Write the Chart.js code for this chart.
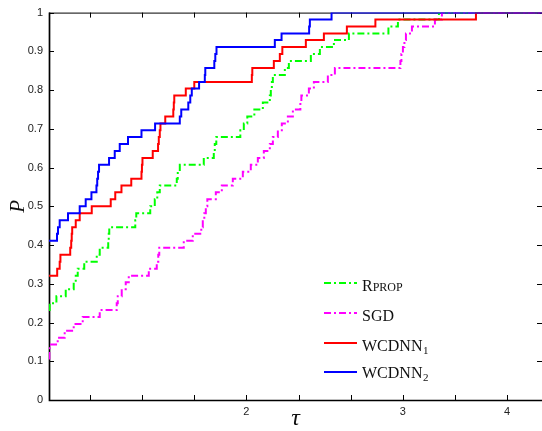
<!DOCTYPE html>
<html>
<head>
<meta charset="utf-8">
<script src="https://cdn.jsdelivr.net/npm/chart.js@4.4.0/dist/chart.umd.min.js"></script>
<style>
html, body { margin: 0; padding: 0; background: #fff; }
#chart { display: block; }
</style>
</head>
<body>
<canvas id="chart" width="542" height="431"></canvas>
<script>
// x is measured in tick units along the tau axis (tick marks at 0..8)
var xTicks = [0, 1, 2, 3, 4, 5, 6, 7, 8];
var xTickLabels = ['', '', '', '2', '', '', '3', '', '4'];
var xMin = -0.787, xMax = 8.67;

var seriesNames = ['Rprop', 'SGD', 'WCDNN1', 'WCDNN2'];

var rpropX = [-0.787, -0.774, -0.645, -0.466, -0.313, -0.274, -0.236, -0.111, 0.129, 0.186, 0.349, 0.359, 0.369, 0.868, 0.887, 1.155, 1.242, 1.290, 1.338, 1.664, 1.683, 1.722, 2.182, 2.374, 2.393, 2.422, 2.883, 2.950, 3.017, 3.152, 3.315, 3.449, 3.468, 3.488, 3.507, 3.737, 3.814, 4.236, 4.409, 4.678, 4.966, 5.724, 5.906, 6.693, 8.67];
var rpropP = [0.232, 0.25, 0.268, 0.286, 0.304, 0.321, 0.339, 0.357, 0.375, 0.393, 0.411, 0.429, 0.446, 0.464, 0.482, 0.5, 0.518, 0.536, 0.554, 0.571, 0.589, 0.607, 0.625, 0.643, 0.661, 0.679, 0.696, 0.714, 0.732, 0.75, 0.768, 0.786, 0.804, 0.821, 0.839, 0.857, 0.875, 0.893, 0.911, 0.929, 0.946, 0.964, 0.982, 1, 1];

var sgdX = [-0.787, -0.780, -0.774, -0.620, -0.486, -0.313, -0.140, 0.186, 0.512, 0.532, 0.608, 0.685, 0.743, 1.127, 1.280, 1.309, 1.328, 1.798, 1.971, 2.134, 2.163, 2.192, 2.221, 2.250, 2.413, 2.528, 2.739, 2.931, 3.084, 3.219, 3.334, 3.449, 3.507, 3.603, 3.679, 3.795, 3.891, 4.035, 4.054, 4.198, 4.294, 4.562, 4.697, 5.954, 5.973, 6.002, 6.031, 6.060, 6.175, 6.616, 6.750, 8.67];
var sgdP = [0.107, 0.125, 0.143, 0.161, 0.179, 0.196, 0.214, 0.232, 0.25, 0.268, 0.286, 0.304, 0.321, 0.339, 0.357, 0.375, 0.393, 0.411, 0.429, 0.446, 0.464, 0.482, 0.5, 0.518, 0.536, 0.554, 0.571, 0.589, 0.607, 0.625, 0.643, 0.661, 0.679, 0.696, 0.714, 0.732, 0.75, 0.768, 0.786, 0.804, 0.821, 0.839, 0.857, 0.875, 0.893, 0.911, 0.929, 0.946, 0.964, 0.982, 1, 1];

var wcdnn1X = [-0.787, -0.630, -0.582, -0.568, -0.380, -0.361, -0.351, -0.342, -0.274, -0.198, 0.033, 0.397, 0.484, 0.603, 0.791, 0.987, 0.996, 1.006, 1.203, 1.305, 1.319, 1.338, 1.351, 1.443, 1.597, 1.607, 1.616, 1.837, 2.000, 3.104, 3.113, 3.526, 3.641, 3.689, 4.140, 4.486, 4.927, 5.474, 7.403, 8.67];
var wcdnn1P = [0.321, 0.339, 0.357, 0.375, 0.393, 0.411, 0.429, 0.446, 0.464, 0.482, 0.5, 0.518, 0.536, 0.554, 0.571, 0.589, 0.607, 0.625, 0.643, 0.661, 0.679, 0.696, 0.714, 0.732, 0.75, 0.768, 0.786, 0.804, 0.821, 0.839, 0.857, 0.875, 0.893, 0.911, 0.929, 0.946, 0.964, 0.982, 1, 1];

var wcdnn2X = [-0.787, -0.633, -0.614, -0.582, -0.422, -0.198, -0.083, 0.027, 0.123, 0.138, 0.154, 0.173, 0.365, 0.474, 0.570, 0.729, 0.987, 1.248, 1.722, 1.750, 1.885, 1.923, 1.952, 2.092, 2.202, 2.211, 2.384, 2.403, 2.426, 3.545, 3.674, 4.203, 4.217, 4.633, 8.67];
var wcdnn2P = [0.411, 0.429, 0.446, 0.464, 0.482, 0.5, 0.518, 0.536, 0.554, 0.571, 0.589, 0.607, 0.625, 0.643, 0.661, 0.679, 0.696, 0.714, 0.732, 0.75, 0.768, 0.786, 0.804, 0.821, 0.839, 0.857, 0.875, 0.893, 0.911, 0.929, 0.946, 0.964, 0.982, 1, 1];

function toPoints(xs, ys) {
    return xs.map(function (x, i) { return { x: x, y: ys[i] }; });
}

function profile(label, xs, ys, color, dash, order) {
    return {
        label: label,
        data: toPoints(xs, ys),
        borderColor: color,
        backgroundColor: color,
        borderWidth: 2,
        borderDash: dash,
        stepped: true,
        pointRadius: 0,
        fill: false,
        order: order
    };
}

var dashDot = [7, 3, 2, 3];

// box with inward tick marks, MATLAB style
var framePlugin = {
    id: 'frame',
    beforeDatasetsDraw: function (chart) {
        var ctx = chart.ctx, a = chart.chartArea;
        var xs = chart.scales.x, ys = chart.scales.y;
        ctx.save();
        ctx.strokeStyle = '#000';
        ctx.lineWidth = 1;
        ctx.beginPath();
        xs.ticks.forEach(function (t) {
            var px = Math.round(xs.getPixelForValue(t.value)) + 0.5;
            ctx.moveTo(px, a.bottom); ctx.lineTo(px, a.bottom - 5);
            ctx.moveTo(px, a.top); ctx.lineTo(px, a.top + 5);
        });
        ys.ticks.forEach(function (t) {
            var py = Math.round(ys.getPixelForValue(t.value)) + 0.5;
            ctx.moveTo(a.left, py); ctx.lineTo(a.left + 5, py);
            ctx.moveTo(a.right, py); ctx.lineTo(a.right - 5, py);
        });
        ctx.moveTo(a.left, a.top + 0.5); ctx.lineTo(a.right, a.top + 0.5);
        ctx.stroke();
        ctx.lineWidth = 1.7;
        ctx.beginPath();
        ctx.moveTo(a.left + 0.5, a.top); ctx.lineTo(a.left + 0.5, a.bottom + 0.5);
        ctx.lineTo(a.right, a.bottom + 0.5);
        ctx.stroke();
        ctx.restore();
    }
};

function drawLegendLabel(ctx, text, x, y) {
    var serif = '"Liberation Serif", "Times New Roman", serif';
    if (text === 'Rprop') {
        ctx.font = '16px ' + serif;
        ctx.fillText('R', x, y);
        var w = ctx.measureText('R').width;
        ctx.font = '12px ' + serif;
        ctx.fillText('PROP', x + w, y);
        return;
    }
    var m = text.match(/^(\D+)(\d)$/);
    ctx.font = '16px ' + serif;
    if (m) {
        ctx.fillText(m[1], x, y);
        var bw = ctx.measureText(m[1]).width;
        ctx.font = '11px ' + serif;
        ctx.fillText(m[2], x + bw + 0.5, y + 3);
    } else {
        ctx.fillText(text, x, y);
    }
}

var legendPlugin = {
    id: 'insideLegend',
    afterDraw: function (chart, args, opts) {
        var ctx = chart.ctx;
        ctx.save();
        chart.data.datasets.forEach(function (ds, i) {
            var ly = opts.lineY[i];
            ctx.strokeStyle = ds.borderColor;
            ctx.lineWidth = 2;
            ctx.setLineDash(ds.borderDash || []);
            ctx.beginPath();
            ctx.moveTo(opts.x0, ly);
            ctx.lineTo(opts.x1, ly);
            ctx.stroke();
            ctx.setLineDash([]);
            ctx.fillStyle = '#111';
            ctx.textBaseline = 'alphabetic';
            ctx.textAlign = 'left';
            drawLegendLabel(ctx, ds.label, opts.textX, opts.baseY[i]);
        });
        ctx.restore();
    }
};

var tickFont = { family: '"Liberation Sans", Arial, Helvetica, sans-serif', size: 11 };

var ctx = document.querySelector('#chart').getContext('2d');
var profileChart = new Chart(ctx, {
    type: 'line',
    data: {
        datasets: [
            profile(seriesNames[0], rpropX, rpropP, '#00ff00', dashDot, 4),
            profile(seriesNames[1], sgdX, sgdP, '#ff00ff', dashDot, 3),
            profile(seriesNames[2], wcdnn1X, wcdnn1P, '#ff0000', [], 2),
            profile(seriesNames[3], wcdnn2X, wcdnn2P, '#0000ff', [], 1)
        ]
    },
    options: {
        responsive: false,
        animation: false,
        devicePixelRatio: 1,
        layout: { padding: { top: 11, right: 0, left: 0, bottom: 0 } },
        scales: {
            x: {
                type: 'linear',
                min: xMin,
                max: xMax,
                grid: { display: false, drawTicks: false },
                border: { display: false },
                afterBuildTicks: function (scale) {
                    scale.ticks = xTicks.map(function (v) { return { value: v }; });
                },
                afterFit: function (scale) { scale.height = 31; },
                ticks: {
                    autoSkip: false,
                    maxRotation: 0,
                    padding: 5,
                    color: '#222',
                    font: tickFont,
                    callback: function (value, index) { return xTickLabels[index]; }
                },
                title: {
                    display: true,
                    text: 'τ',
                    color: '#111',
                    padding: { top: 0, bottom: 0 },
                    font: { family: '"Liberation Serif", "Times New Roman", serif', size: 24, style: 'italic', lineHeight: 1 }
                }
            },
            y: {
                min: 0,
                max: 1,
                grid: { display: false, drawTicks: false },
                border: { display: false },
                afterFit: function (scale) { scale.width = 49; },
                ticks: {
                    stepSize: 0.1,
                    padding: 6,
                    color: '#222',
                    font: tickFont,
                    callback: function (value) { return String(Number(value.toFixed(1))); }
                },
                title: {
                    display: true,
                    text: 'P',
                    color: '#111',
                    padding: { top: 6, bottom: 0 },
                    font: { family: '"Liberation Serif", "Times New Roman", serif', size: 21, style: 'italic' }
                }
            }
        },
        plugins: {
            legend: { display: false },
            tooltip: { enabled: false },
            insideLegend: {
                x0: 324,
                x1: 357,
                textX: 362,
                lineY: [283, 313, 343, 372],
                baseY: [291, 321, 351, 377.5]
            }
        }
    },
    plugins: [framePlugin, legendPlugin]
});
</script>
</body>
</html>
